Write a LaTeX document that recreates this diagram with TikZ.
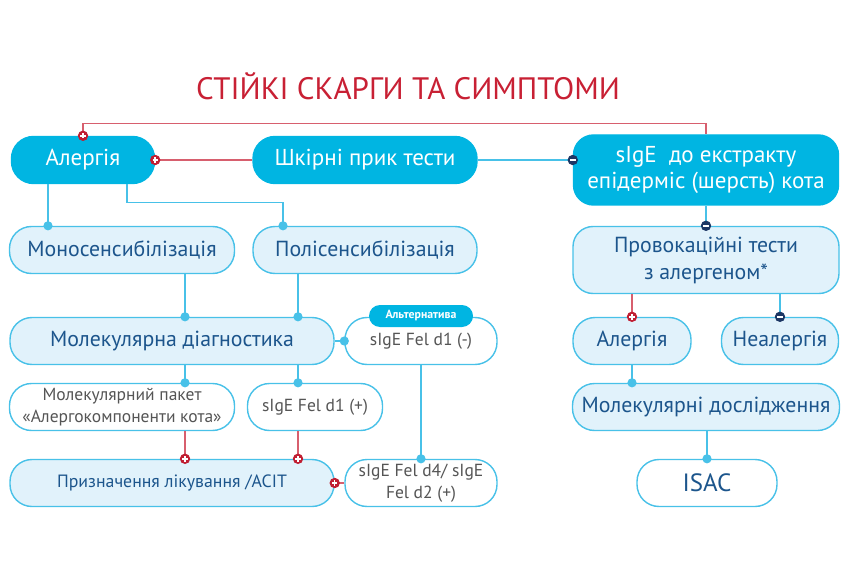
\documentclass[tikz,border=0pt]{standalone}
\usepackage{fontspec}
\setmainfont{PT Sans}
\usepackage{tikz}

\begin{document}
\begin{tikzpicture}[x=1pt,y=-1pt,
  box/.style={draw=lineBlue, line width=1.4pt, rounded corners=22pt, inner sep=0pt, align=center, minimum height=47pt},
  darkbox/.style={box, fill=topBlue, draw=topBlue, text=white, font=\fontsize{23}{26}\selectfont},
  lightbox/.style={box, fill=lightFill, text=textBlue, font=\fontsize{21.8}{27}\selectfont},
  whitebox/.style={box, fill=white, text=textGray, font=\fontsize{17.5}{22}\selectfont},
  bline/.style={lineBlue, line width=1.3pt},
  rline/.style={lineRed, line width=1.3pt},
  plusdot/.pic={\fill[markRed] (0,0) circle (5.2); \draw[white,line width=1.5pt] (-2.7,0) -- (2.7,0) (0,-2.7) -- (0,2.7);},
  minusdot/.pic={\fill[markNavy] (0,0) circle (5.2); \draw[white,line width=1.5pt] (-2.7,0) -- (2.7,0);}]
\definecolor{topBlue}{RGB}{0,181,226}
\definecolor{lightFill}{RGB}{225,242,251}
\definecolor{lineBlue}{RGB}{72,193,232}
\definecolor{textBlue}{RGB}{28,85,140}
\definecolor{textGray}{RGB}{85,85,85}
\definecolor{titleRed}{RGB}{200,32,52}
\definecolor{lineRed}{RGB}{215,95,110}
\definecolor{markRed}{RGB}{192,30,50}
\definecolor{markNavy}{RGB}{28,55,100}
\useasboundingbox (0,0) rectangle (861,569);

\node[text=titleRed, font=\fontsize{31}{36}\selectfont] (title) at (408,86) {СТІЙКІ СКАРГИ ТА СИМПТОМИ};

\node[darkbox, minimum width=143] (alg) at (83,160) {Алергія};
\node[darkbox, minimum width=224] (skin) at (365,160) {Шкірні прик тести};
\node[darkbox, minimum width=265, minimum height=70, rounded corners=20pt] (sige) at (706,170) {sIgE\ \ до екстракту\\епідерміс (шерсть) кота};

\node[lightbox, minimum width=225] (mono) at (122,250) {Моносенсибілізація};
\node[lightbox, minimum width=224] (poli) at (365,250) {Полісенсибілізація};
\node[lightbox, minimum width=266, minimum height=67, rounded corners=20pt] (prov) at (706,260) {Провокаційні тести\\з алергеном*};

\node[lightbox, minimum width=324] (mdiag) at (172,341) {Молекулярна діагностика};
\node[whitebox, minimum width=152] (fel1m) at (421,341) {sIgE Fel d1 (-)};
\node[fill=topBlue, rounded corners=11pt, minimum width=104, minimum height=22, inner sep=0pt, text=white, font=\bfseries\fontsize{11.8}{13}\selectfont] (alt) at (421,316) {Альтернатива};
\node[lightbox, minimum width=118] (alg2) at (632,341) {Алергія};
\node[lightbox, minimum width=117] (nealg) at (780,341) {Неалергія};

\node[whitebox, minimum width=225] (pack) at (122,407) {Молекулярний пакет\\«Алергокомпоненти кота»};
\node[whitebox, minimum width=135] (fel1p) at (315,407) {sIgE Fel d1 (+)};
\node[lightbox, minimum width=267] (mold) at (706,407) {Молекулярні дослідження};

\node[lightbox, minimum width=324, font=\fontsize{17.8}{20}\selectfont] (treat) at (172,483) {Призначення лікування /ACIT};
\node[whitebox, minimum width=152] (fel4) at (421,483) {sIgE Fel d4/ sIgE\\Fel d2 (+)};
\node[whitebox, minimum width=140, text=textBlue, font=\fontsize{25}{28}\selectfont] (isac) at (707,483) {ISAC};

\draw[rline] (alg.north) -- ++(0,-12) -| (sige.north);
\draw[rline] (skin.west) -- (alg.east);
\draw[bline] (skin.east) -- (skin.east -| sige.west) coordinate (m1);
\draw[bline] (sige.south) -- (prov.north);
\draw[rline] (prov.south -| alg2.north) -- (alg2.north);
\draw[bline] (prov.south -| nealg.north) -- (nealg.north);
\draw[bline] (alg2.south) -- (alg2.south |- mold.north) coordinate (d1);
\draw[bline] (mold.south -| isac.north) -- (isac.north);
\draw[bline] ([xshift=-35pt]alg.south) -- ([xshift=-74pt]mono.north) coordinate (d2);
\draw[bline] ([xshift=44pt]alg.south) -- ++(0,18) -| ([xshift=-82pt]poli.north) coordinate (d3);
\draw[bline] ([xshift=63pt]mono.south) -- ([xshift=13pt]mdiag.north) coordinate (d4);
\draw[bline] ([xshift=-67pt]poli.south) -- ([xshift=126pt]mdiag.north) coordinate (d5);
\draw[bline] (mdiag.east) -- (fel1m.west);
\draw[bline] ([xshift=13pt]mdiag.south) -- ([xshift=63pt]pack.north) coordinate (d6);
\draw[bline] ([xshift=126pt]mdiag.south) -- ([xshift=-17pt]fel1p.north) coordinate (d7);
\draw[rline] ([xshift=63pt]pack.south) -- ([xshift=13pt]treat.north) coordinate (p1);
\draw[rline] ([xshift=-17pt]fel1p.south) -- ([xshift=126pt]treat.north) coordinate (p2);
\draw[rline] (treat.east) -- (fel4.west);
\draw[bline] (fel1m.south) -- (fel4.north);

\foreach \d in {d1,d2,d3,d4,d5,d6,d7,fel1m.west,fel4.north,isac.north}
  \fill[lineBlue] (\d) circle (4.6);
\foreach \p in {alg.north,alg.east,alg2.north,p1,p2,treat.east}
  \pic at (\p) {plusdot};
\foreach \m in {m1,prov.north,nealg.north}
  \pic at (\m) {minusdot};
\end{tikzpicture}
\end{document}
